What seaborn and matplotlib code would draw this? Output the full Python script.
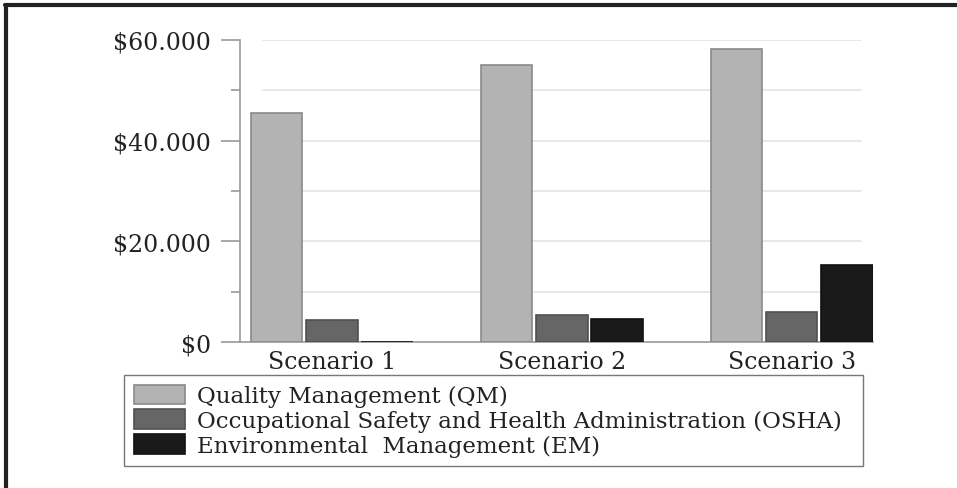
import pandas as pd
import numpy as np
import seaborn as sns
import matplotlib.pyplot as plt
from matplotlib.lines import Line2D
from matplotlib.ticker import MultipleLocator, FuncFormatter

scenarios = ['Scenario 1', 'Scenario 2', 'Scenario 3']
series = ['Quality Management (QM)',
          'Occupational Safety and Health Administration (OSHA)',
          'Environmental  Management (EM)']
qm = [45400, 55000, 58200]
osha = [4400, 5400, 6000]
em = [0, 4600, 15300]

df = pd.DataFrame({
    'Scenario': scenarios * 3,
    'Series': [series[0]] * 3 + [series[1]] * 3 + [series[2]] * 3,
    'Cost': qm + osha + em,
})

sns.set_theme(style='white')
plt.rcParams['font.family'] = ['DejaVu Serif']

fig = plt.figure(figsize=(9.57, 4.89), dpi=100)
ax = fig.add_axes([240/957, 1-343/489, (873-240)/957, (343-41)/489])

colors = ['#b3b3b3', '#666666', '#1a1a1a']
edges = ['#8a8a8a', '#505050', '#111111']
sns.barplot(data=df, x='Scenario', y='Cost', hue='Series', palette=colors,
            width=0.72, gap=0.07, ax=ax, legend=False, zorder=3)
for i, cont in enumerate(ax.containers):
    for bar in cont:
        bar.set_edgecolor(edges[i])
        bar.set_linewidth(1.2)

ax.set_ylim(0, 60000)
ax.set_xlim(-0.4, 2.353)
ax.yaxis.set_major_locator(MultipleLocator(20000))
ax.yaxis.set_minor_locator(MultipleLocator(10000))
ax.yaxis.set_major_formatter(FuncFormatter(
    lambda v, p: '$0' if v == 0 else '${:,.0f}'.format(v).replace(',', '.')))
for yv in np.arange(10000, 60001, 10000):
    ax.axhline(yv, xmin=0.036, xmax=0.981, color='#e4e4e4', lw=1.2, zorder=1)

ax.set_xlabel('')
ax.set_ylabel('')
for s in ['top', 'right']:
    ax.spines[s].set_visible(False)
for s in ['left', 'bottom']:
    ax.spines[s].set_color('#9a9a9a')
    ax.spines[s].set_linewidth(1.2)
ax.tick_params(axis='y', which='major', length=14, width=1.2, color='#9a9a9a',
               labelsize=17, pad=7, left=True)
ax.tick_params(axis='y', which='minor', length=6.5, width=1.2, color='#9a9a9a', left=True)
ax.tick_params(axis='x', length=0, labelsize=17, pad=6)
for lab in ax.get_yticklabels() + ax.get_xticklabels():
    lab.set_color('#222222')

handles = [plt.Rectangle((0, 0), 1, 1, facecolor=colors[i], edgecolor=edges[i], lw=1.2)
           for i in range(3)]
leg = fig.legend(handles, series, loc='upper left', mode='expand',
                 bbox_to_anchor=(124/957, 1-376/489-0.01, (863-124)/957, 0.01),
                 fontsize=16.5, frameon=True, fancybox=False, edgecolor='#555555',
                 handlelength=2.25, handleheight=0.95, labelspacing=0.08,
                 handletextpad=0.5, borderpad=0.42, borderaxespad=0)
leg.get_frame().set_linewidth(1.0)
for t in leg.get_texts():
    t.set_color('#222222')

fig.add_artist(Line2D([5/957, 1], [1-6/489, 1-6/489], color='#222222', lw=3,
                      transform=fig.transFigure))
fig.add_artist(Line2D([6/957, 6/957], [0, 1-6/489], color='#222222', lw=3,
                      transform=fig.transFigure))

fig.savefig('out.png', dpi=100)
